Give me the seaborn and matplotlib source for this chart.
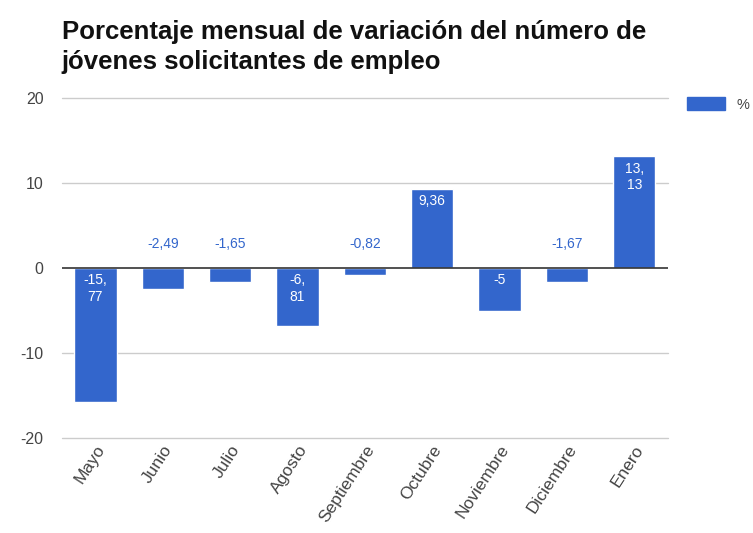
import numpy as np
import matplotlib.pyplot as plt
import pandas as pd
import seaborn as sns
from matplotlib.patches import Patch

## data
meses = ["Mayo", "Junio", "Julio", "Agosto", "Septiembre", "Octubre",
         "Noviembre", "Diciembre", "Enero"]
variacion = [-15.77, -2.49, -1.65, -6.81, -0.82, 9.36, -5.0, -1.67, 13.13]
etiquetas = ["-15,\n77", "-2,49", "-1,65", "-6,\n81", "-0,82", "9,36",
             "-5", "-1,67", "13,\n13"]
dentro = [True, False, False, True, False, True, True, False, True]

df = pd.DataFrame({"mes": meses, "pct": variacion})

sns.set_style("white")
plt.rcParams['font.family'] = ['Liberation Sans', 'DejaVu Sans']

azul = "#3366CC"
fig = plt.figure(figsize=(7.53, 5.33), dpi=100)
ax = fig.add_axes([0.082, 0.178, 0.805, 0.638])

sns.barplot(data=df, x="mes", y="pct", color=azul, saturation=1,
            width=0.63, ax=ax)

ax.set_ylim(-20, 20)
ax.set_xlim(-0.5, 8.5)
ax.set_yticks([-20, -10, 0, 10, 20])
ax.set_yticklabels(["-20", "-10", "0", "10", "20"])
for g in [-20, -10, 10, 20]:
    ax.axhline(g, color="#cccccc", linewidth=1, zorder=0, clip_on=False)
ax.axhline(0, color="#333333", linewidth=1.2, zorder=3)
for s in ax.spines.values():
    s.set_visible(False)
ax.set_xlabel("")
ax.set_ylabel("")
ax.tick_params(axis="both", length=0, labelsize=11.5, colors="#444444")
ax.tick_params(axis="y", pad=13)
ax.tick_params(axis="x", pad=3, labelsize=12.5)
plt.setp(ax.get_xticklabels(), rotation=57, ha="right",
         rotation_mode="anchor")

## value labels
for i, (v, t, d) in enumerate(zip(variacion, etiquetas, dentro)):
    if d:
        y = v - 0.6 if v > 0 else -0.6
        ax.text(i, y, t, ha="center", va="top", color="white",
                fontsize=10, linespacing=1.25, zorder=4)
    else:
        ax.text(i, 2.8, t, ha="center", va="center", color=azul,
                fontsize=10, zorder=4)

fig.text(0.082, 0.912, "Porcentaje mensual de variación del número de\njóvenes solicitantes de empleo",
         fontsize=18.5, fontweight="bold", color="#111111", va="center",
         linespacing=1.33)

fig.legend(handles=[Patch(color=azul, label="%")], loc="upper left",
           bbox_to_anchor=(0.912, 0.818), frameon=False, fontsize=10.5,
           handlelength=2.6, handleheight=1.0, handletextpad=0.8,
           borderpad=0, borderaxespad=0, labelcolor="#444444")

fig.savefig("out.png", dpi=100)
